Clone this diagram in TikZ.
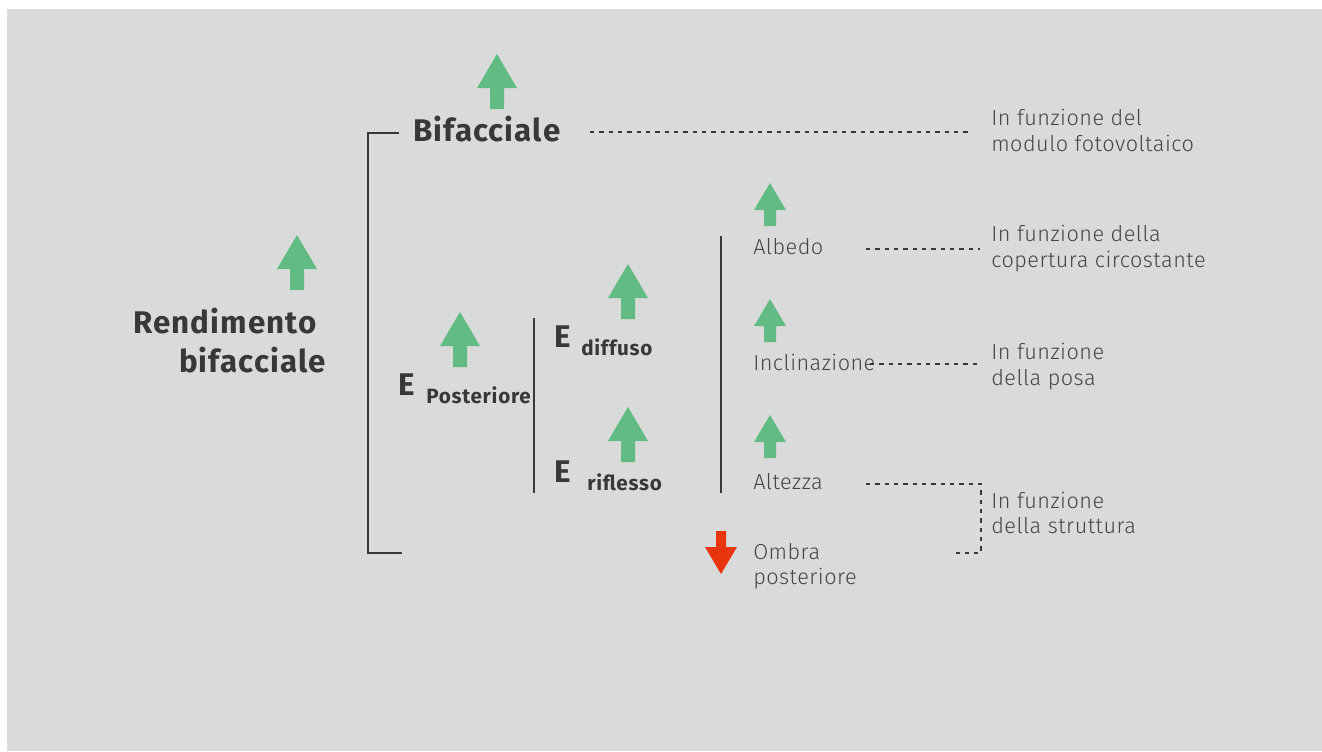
\documentclass[tikz,border=0pt]{standalone}
\usepackage{fontspec}
\setmainfont{Fira Sans}
\newfontfamily\lightf[LetterSpace=2.2]{Fira Sans Light}
\newfontfamily\boldf[LetterSpace=3.5,UprightFont=*-Bold]{Fira Sans}
\definecolor{bg}{HTML}{D9DBDA}
\definecolor{ink}{HTML}{383838}
\definecolor{inklight}{HTML}{454545}
\definecolor{upc}{HTML}{63BB84}
\definecolor{downc}{HTML}{E8340F}
\tikzset{
  bigtxt/.style={font=\boldf\fontsize{23.5}{28}\selectfont, text=ink, inner sep=0pt},
  subtxt/.style={font=\boldf\fontsize{15.5}{18}\selectfont, text=ink, inner sep=0pt, anchor=base west},
  lighttxt/.style={font=\lightf\fontsize{16.25}{19}\selectfont, text=inklight, inner sep=0pt, anchor=base west},
  solidline/.style={draw=ink, line width=2pt},
  dotline/.style={draw=ink, line width=2pt, dash pattern=on 3.3pt off 3.7pt},
  bigup/.pic={\fill[upc] (0,0) -- (20,34) -- (7,34) -- (7,55) -- (-7,55) -- (-7,34) -- (-20,34) -- cycle;},
  smallup/.pic={\fill[upc] (0,0) -- (16,27) -- (6,27) -- (6,43) -- (-6,43) -- (-6,27) -- (-16,27) -- cycle;},
  smalldown/.pic={\fill[downc] (-5,0) -- (5,0) -- (5,16) -- (16,16) -- (0,43) -- (-16,16) -- (-5,16) -- cycle;},
}
\begin{document}
\begin{tikzpicture}[x=0.75pt,y=-0.75pt]
\useasboundingbox (0,0) rectangle (1322,751);
\fill[bg] (7,9) rectangle (1322,751);

% arrows
\pic at (497,54) {bigup};
\pic at (297,235) {bigup};
\pic at (460,312) {bigup};
\pic at (628,264) {bigup};
\pic at (628,407) {bigup};
\pic at (770,183) {smallup};
\pic at (770,299) {smallup};
\pic at (770,415) {smallup};
\pic at (721,531) {smalldown};

% bold texts
\node[bigtxt, anchor=base west] (bif) at (413,141) {Bifacciale};
\node[bigtxt, anchor=base east] (rend1) at (317,333) {Rendimento};
\node[bigtxt, anchor=base east] (rend2) at (326,372) {bifacciale};
\node[bigtxt, anchor=base west] (epost) at (398,395) {E};
\node[subtxt] (post) at (426,403) {Posteriore};
\node[bigtxt, anchor=base west] (ediff) at (554,347) {E};
\node[subtxt] (diff) at (581,355) {diffuso};
\node[bigtxt, anchor=base west] (erifl) at (554,482) {E};
\node[subtxt] (rifl) at (587,490) {riflesso};

% light texts
\node[lighttxt] (alb) at (753,254) {Albedo};
\node[lighttxt] (incl) at (753,370) {Inclinazione};
\node[lighttxt] (alt) at (753,489) {Altezza};
\node[lighttxt] (omb1) at (753,559) {Ombra};
\node[lighttxt] (omb2) at (753,584) {posteriore};

\node[lighttxt] (m1) at (991,125) {In funzione del};
\node[lighttxt] (m2) at (991,151.5) {modulo fotovoltaico};
\node[lighttxt] (c1) at (991,241.5) {In funzione della};
\node[lighttxt] (c2) at (991,267) {copertura circostante};
\node[lighttxt] (p1) at (991,359) {In funzione};
\node[lighttxt] (p2) at (991,385) {della posa};
\node[lighttxt] (s1) at (991,508) {In funzione};
\node[lighttxt] (s2) at (991,533.5) {della struttura};

% solid brackets
\coordinate (b1) at (399,133);
\coordinate (b2) at (368,133);
\coordinate (b3) at (368,553);
\coordinate (b4) at (402,553);
\draw[solidline] (b1) -- (b2) -- (b3) -- (b4);
\coordinate (v1a) at (534,318);
\coordinate (v1b) at (534,493);
\draw[solidline] (v1a) -- (v1b);
\coordinate (v2a) at (721,236);
\coordinate (v2b) at (721,493);
\draw[solidline] (v2a) -- (v2b);

% dotted leaders
\coordinate (d1a) at (590,132);
\coordinate (d1b) at (970,132);
\draw[dotline] (d1a) -- (d1b);
\coordinate (d2a) at (866,249);
\coordinate (d2b) at (980,249);
\draw[dotline] (d2a) -- (d2b);
\coordinate (d3a) at (870,364);
\coordinate (d3b) at (980,364);
\draw[dotline] (d3a) -- (d3b);
\coordinate (d4a) at (866,484);
\coordinate (d4b) at (981,484);
\coordinate (d4c) at (981,553);
\coordinate (d4d) at (956,553);
\draw[dotline] (d4a) -- (d4b) -- (d4c) -- (d4d);
\end{tikzpicture}
\end{document}
